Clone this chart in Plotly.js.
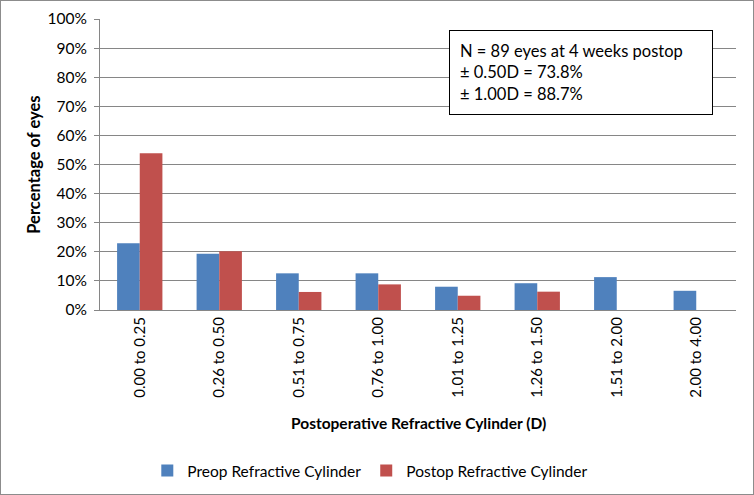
<!DOCTYPE html>
<html><head><meta charset="utf-8">
<script src="https://cdn.plot.ly/plotly-3.0.1.min.js"></script>
<style>html,body{margin:0;padding:0;background:#fff}#c{width:754px;height:495px;box-sizing:border-box;border:1px solid #8c8c8c}</style>
</head><body><div id="c"></div>
<script>
const categories = ["0.00 to 0.25","0.26 to 0.50","0.51 to 0.75","0.76 to 1.00","1.01 to 1.25","1.26 to 1.50","1.51 to 2.00","2.00 to 4.00"];
const preop = [22.9, 19.3, 12.6, 12.6, 8.0, 9.2, 11.3, 6.6];
const postop = [53.9, 20.2, 6.2, 8.8, 4.9, 6.3, 0, 0];
const seriesNames = ["Preop Refractive Cylinder","Postop Refractive Cylinder"];
const yTicks = [0,10,20,30,40,50,60,70,80,90,100];
const xTitle = "Postoperative Refractive Cylinder (D)";
const yTitle = "Percentage of eyes";
const noteLines = ["N = 89 eyes at 4 weeks postop","± 0.50D = 73.8%","± 1.00D = 88.7%"];

const font = "Lato, 'Open Sans', sans-serif";
const data = [
  {type:"bar", x:categories, y:preop, name:seriesNames[0], marker:{color:"#4F81BD"}},
  {type:"bar", x:categories, y:postop, name:seriesNames[1], marker:{color:"#C0504D"}}
];
const layout = {
  width:752, height:493,
  margin:{l:99, r:17, t:18, b:184, autoexpand:false},
  paper_bgcolor:"#fff", plot_bgcolor:"#fff",
  font:{family:font, size:15, color:"#000"},
  barmode:"group", bargap:0.43, bargroupgap:0,
  showlegend:true,
  legend:{orientation:"h", x:0.425, xanchor:"center", y:-0.553, yanchor:"middle", font:{size:15.5},
          traceorder:"normal", itemwidth:30},
  xaxis:{type:"category", tickangle:-90, showline:true, linecolor:"#868686", linewidth:1, automargin:false,
         ticks:"", showgrid:false, zeroline:false, tickfont:{size:15}},
  yaxis:{range:[0,100], tickvals:yTicks, ticktext:yTicks.map(v=>v+"%"), showline:true, linecolor:"#868686",
         linewidth:1, ticks:"outside", ticklen:5, tickcolor:"#868686", showgrid:true, gridcolor:"#868686", gridwidth:1,
         zeroline:false, tickfont:{size:15.5}, automargin:false, ticklabelstandoff:4},
  annotations:[
    {xref:"paper", yref:"paper", x:0.5, y:-0.388, xanchor:"center", yanchor:"middle", showarrow:false,
     text:"<b>"+xTitle+"</b>", font:{size:15.5}},
    {xref:"paper", yref:"paper", x:-0.105, y:0.5, xanchor:"center", yanchor:"middle", showarrow:false,
     text:"<b>"+yTitle+"</b>", textangle:-90, font:{size:16.5}},
    {xref:"paper", yref:"paper", x:0.549, y:0.962, xanchor:"left", yanchor:"top",
    text:noteLines.join("<br>"), align:"left", valign:"middle", showarrow:false, bordercolor:"#000", borderwidth:1,
    bgcolor:"#fff", borderpad:10, width:242, height:63, font:{size:16.5}}]
};
Plotly.newPlot("c", data, layout, {displayModeBar:false, staticPlot:true});
</script></body></html>
